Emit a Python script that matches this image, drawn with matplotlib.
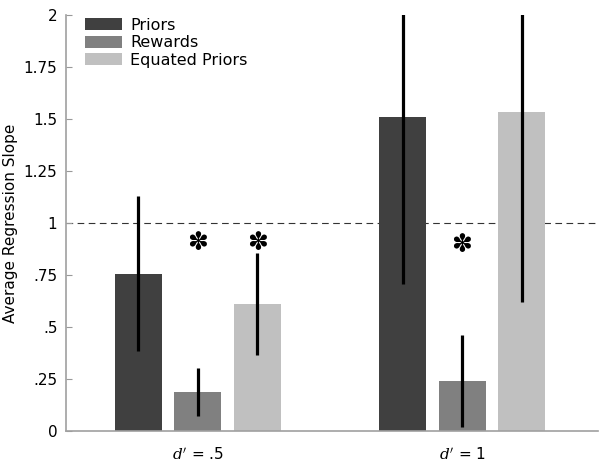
import matplotlib.pyplot as plt
import numpy as np

plt.rcParams['mathtext.fontset'] = 'dejavuserif'

# data
groups = ['.5', '1']
series = ['Priors', 'Rewards', 'Equated Priors']
colors = ['#404040', '#808080', '#c0c0c0']
means = [[0.756, 1.508],
         [0.186, 0.242],
         [0.610, 1.534]]
errors = [[0.372, 0.80],
          [0.116, 0.221],
          [0.245, 0.912]]
# asterisk marks: (series index, group index, height)
stars = [(1, 0, 0.915), (2, 0, 0.915), (1, 1, 0.905)]
yticks = [0, 0.25, 0.5, 0.75, 1, 1.25, 1.5, 1.75, 2]
yticklabels = ['0', '.25', '.5', '.75', '1', '1.25', '1.5', '1.75', '2']

fig = plt.figure(figsize=(6.03, 4.66), dpi=100)
ax = fig.add_axes([0.109, 0.075, 0.883, 0.893])

x = np.arange(1, len(groups) + 1)
width = 0.178
step = 0.225

for i, name in enumerate(series):
    pos = x + (i - 1) * step
    ax.bar(pos, means[i], width, color=colors[i], label=name, zorder=2)
    ax.errorbar(pos, means[i], yerr=errors[i], fmt='none', ecolor='black',
                elinewidth=2.3, capsize=0, zorder=3)

for s, g, h in stars:
    ax.text(x[g] + (s - 1) * step, h, '\u273d', ha='center',
            va='center_baseline', fontsize=18, fontweight='bold', zorder=4)

ax.axhline(1, color='#333333', lw=0.8, ls=(0, (6, 4)), zorder=1)

ax.set_xlim(0.5, 2.515)
ax.set_ylim(0, 2)
ax.set_yticks(yticks)
ax.set_yticklabels(yticklabels, fontsize=11)
ax.tick_params(axis='y', direction='in', length=4, color='#999999', pad=6)
ax.set_xticks(x)
ax.set_xticklabels([r"$d'$ = " + g for g in groups], fontsize=11)
ax.tick_params(axis='x', length=0, pad=11)
ax.set_ylabel('Average Regression Slope', fontsize=11, labelpad=4)

for side in ['top', 'right']:
    ax.spines[side].set_visible(False)
for side in ['left', 'bottom']:
    ax.spines[side].set_color('#a0a0a0')
    ax.spines[side].set_linewidth(1.2)

ax.legend(loc='upper left', frameon=False, fontsize=11.5, handlelength=2.3,
          handleheight=0.75, handletextpad=0.5, labelspacing=0.15,
          borderaxespad=0.1, bbox_to_anchor=(0.022, 1.012))

plt.savefig('out.png', dpi=100)
